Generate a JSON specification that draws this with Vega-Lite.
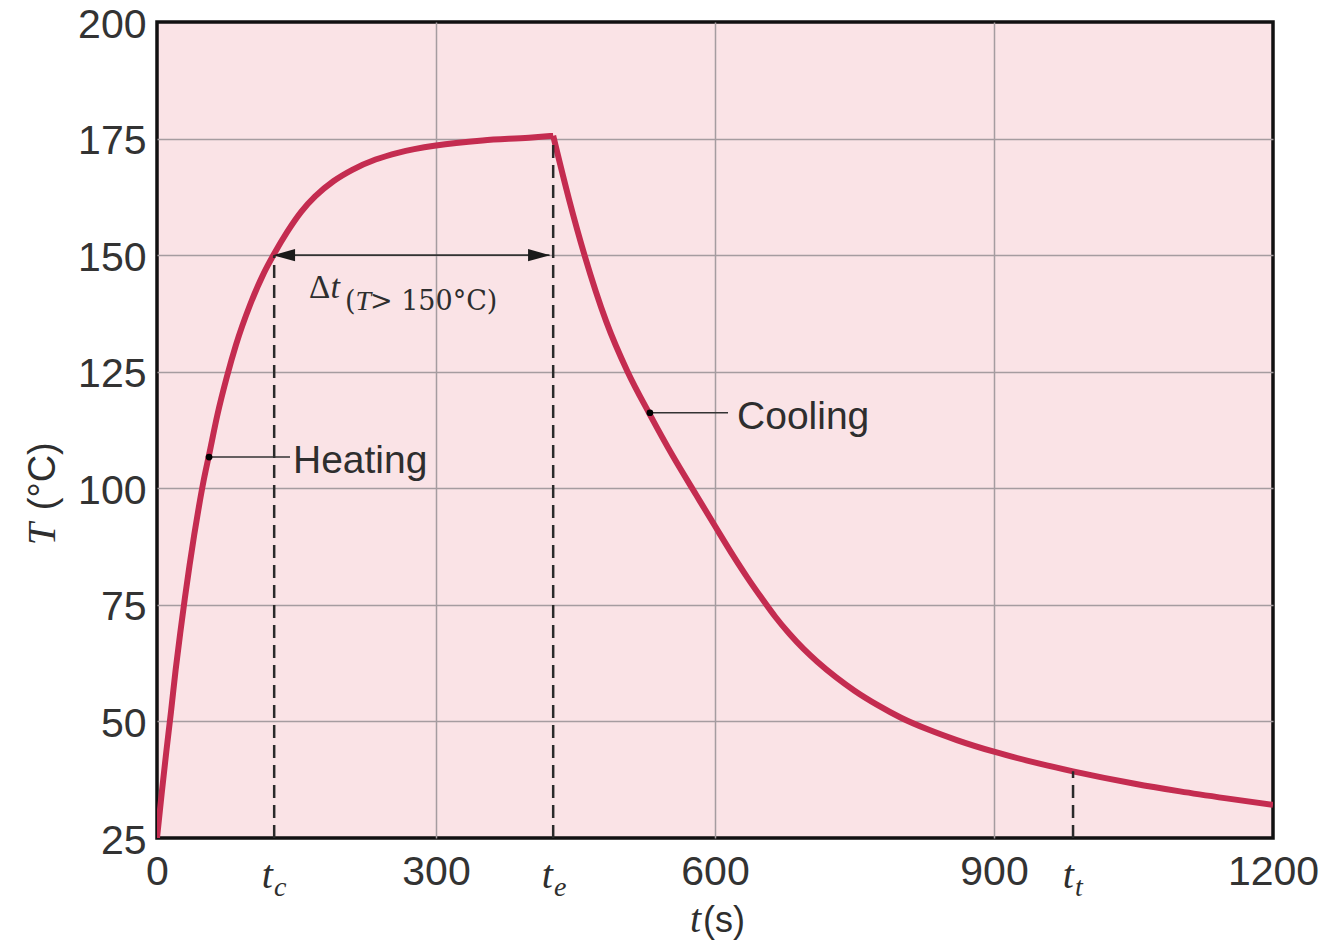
{
  "$schema": "https://vega.github.io/schema/vega-lite/v6.json",
  "width": 1116,
  "height": 816,
  "autosize": {"type": "none"},
  "padding": {"left": 157, "top": 22, "right": 57, "bottom": 106},
  "background": "#ffffff",
  "config": {
    "view": {"fill": "#fae3e6", "stroke": "#111111", "strokeWidth": 3.5},
    "axis": {
      "grid": true,
      "gridColor": "#a59ca0",
      "gridWidth": 1.5,
      "domain": false,
      "ticks": false,
      "labelFont": "Liberation Sans",
      "labelFontSize": 41,
      "labelColor": "#333333",
      "title": null
    }
  },
  "encoding": {
    "x": {
      "field": "t",
      "type": "quantitative",
      "scale": {"domain": [0, 1200], "nice": false, "zero": false},
      "axis": {
        "values": [0, 300, 600, 900, 1200],
        "format": "d",
        "labelPadding": 14,
        "labelFlush": false,
        "gridOpacity": {"condition": {"test": "datum.value == 0 || datum.value == 1200", "value": 0}, "value": 1}
      }
    },
    "y": {
      "field": "T",
      "type": "quantitative",
      "scale": {"domain": [25, 200], "nice": false, "zero": false},
      "axis": {
        "values": [25, 50, 75, 100, 125, 150, 175, 200],
        "labelPadding": 11,
        "labelOffset": 3,
        "labelFlush": false,
        "gridOpacity": {"condition": {"test": "datum.value == 25 || datum.value == 200", "value": 0}, "value": 1}
      }
    }
  },
  "layer": [
    {
      "data": {"values": [
        {"t": 0, "T": 25, "phase": "heating"},
        {"t": 5, "T": 34.5, "phase": "heating"},
        {"t": 10, "T": 43.5, "phase": "heating"},
        {"t": 15, "T": 52, "phase": "heating"},
        {"t": 20, "T": 61, "phase": "heating"},
        {"t": 25, "T": 69, "phase": "heating"},
        {"t": 30, "T": 76.5, "phase": "heating"},
        {"t": 35, "T": 83.5, "phase": "heating"},
        {"t": 40, "T": 90, "phase": "heating"},
        {"t": 45, "T": 96, "phase": "heating"},
        {"t": 50, "T": 101.5, "phase": "heating"},
        {"t": 56, "T": 107.2, "phase": "heating"},
        {"t": 65, "T": 115.8, "phase": "heating"},
        {"t": 75, "T": 123.8, "phase": "heating"},
        {"t": 85, "T": 130.8, "phase": "heating"},
        {"t": 100, "T": 139.3, "phase": "heating"},
        {"t": 115, "T": 146.2, "phase": "heating"},
        {"t": 126, "T": 150.3, "phase": "heating"},
        {"t": 140, "T": 155, "phase": "heating"},
        {"t": 155, "T": 159.3, "phase": "heating"},
        {"t": 170, "T": 162.6, "phase": "heating"},
        {"t": 190, "T": 165.9, "phase": "heating"},
        {"t": 210, "T": 168.3, "phase": "heating"},
        {"t": 235, "T": 170.5, "phase": "heating"},
        {"t": 260, "T": 172, "phase": "heating"},
        {"t": 300, "T": 173.5, "phase": "heating"},
        {"t": 350, "T": 174.6, "phase": "heating"},
        {"t": 400, "T": 175.2, "phase": "heating"},
        {"t": 426, "T": 175.6, "phase": "heating"},
        {"t": 426, "T": 175.6, "phase": "cooling"},
        {"t": 443, "T": 162, "phase": "cooling"},
        {"t": 460, "T": 149.8, "phase": "cooling"},
        {"t": 483, "T": 135.8, "phase": "cooling"},
        {"t": 506, "T": 125, "phase": "cooling"},
        {"t": 530, "T": 115.8, "phase": "cooling"},
        {"t": 555, "T": 106.8, "phase": "cooling"},
        {"t": 580, "T": 98.5, "phase": "cooling"},
        {"t": 600, "T": 91.9, "phase": "cooling"},
        {"t": 620, "T": 85.4, "phase": "cooling"},
        {"t": 635, "T": 80.8, "phase": "cooling"},
        {"t": 650, "T": 76.5, "phase": "cooling"},
        {"t": 665, "T": 72.4, "phase": "cooling"},
        {"t": 680, "T": 68.8, "phase": "cooling"},
        {"t": 695, "T": 65.6, "phase": "cooling"},
        {"t": 710, "T": 62.8, "phase": "cooling"},
        {"t": 730, "T": 59.5, "phase": "cooling"},
        {"t": 750, "T": 56.6, "phase": "cooling"},
        {"t": 775, "T": 53.5, "phase": "cooling"},
        {"t": 800, "T": 50.8, "phase": "cooling"},
        {"t": 830, "T": 48.2, "phase": "cooling"},
        {"t": 860, "T": 46, "phase": "cooling"},
        {"t": 900, "T": 43.5, "phase": "cooling"},
        {"t": 950, "T": 40.9, "phase": "cooling"},
        {"t": 985, "T": 39.3, "phase": "cooling"},
        {"t": 1050, "T": 36.7, "phase": "cooling"},
        {"t": 1100, "T": 35, "phase": "cooling"},
        {"t": 1150, "T": 33.5, "phase": "cooling"},
        {"t": 1200, "T": 32.1, "phase": "cooling"}
      ]},
      "mark": {"type": "line", "color": "#c42c50", "strokeWidth": 6, "interpolate": "monotone", "clip": true},
      "encoding": {"detail": {"field": "phase"}, "order": {"field": "t"}}
    },
    {
      "data": {"values": [
        {"t": 126, "T": 25, "T2": 150},
        {"t": 426, "T": 25, "T2": 175},
        {"t": 985, "T": 25, "T2": 39.3}
      ]},
      "mark": {"type": "rule", "color": "#2a2a2a", "strokeWidth": 2.5, "strokeDash": [13, 7]},
      "encoding": {"y2": {"field": "T2"}}
    },
    {
      "data": {"values": [
        {"t": 130, "t2": 422, "T": 150},
        {"t": 56, "t2": 143, "T": 106.7},
        {"t": 530, "t2": 614, "T": 116.2}
      ]},
      "mark": {"type": "rule", "color": "#333333", "strokeWidth": 1.6},
      "encoding": {"x2": {"field": "t2"}}
    },
    {
      "data": {"values": [
        {"t": 136.6, "T": 150, "dir": "L"},
        {"t": 410.8, "T": 150, "dir": "R"}
      ]},
      "mark": {"type": "point", "filled": true, "color": "#1a1a1a", "opacity": 1, "size": 484, "strokeWidth": 0},
      "encoding": {
        "shape": {"field": "dir", "type": "nominal", "legend": null,
          "scale": {"domain": ["L", "R"], "range": ["M-1,0L1,-0.55L1,0.55Z", "M1,0L-1,-0.55L-1,0.55Z"]}}
      }
    },
    {
      "data": {"values": [
        {"t": 56, "T": 106.7},
        {"t": 530, "T": 116.2}
      ]},
      "mark": {"type": "point", "filled": true, "color": "#000000", "opacity": 1, "size": 45, "strokeWidth": 0}
    },
    {
      "data": {"values": [
        {"t": 146.2, "T": 103.3, "label": "Heating"},
        {"t": 623.7, "T": 112.7, "label": "Cooling"}
      ]},
      "mark": {"type": "text", "font": "Liberation Sans", "fontSize": 39, "color": "#2e2e2e", "align": "left", "baseline": "alphabetic"},
      "encoding": {"text": {"field": "label"}}
    },
    {
      "data": {"values": [
        {"t": 124.7, "T": 14.28, "label": "t"},
        {"t": 425.8, "T": 14.28, "label": "t"},
        {"t": 986.0, "T": 14.28, "label": "t"},
        {"t": 585, "T": 4.85, "label": "t"}
      ]},
      "mark": {"type": "text", "font": "Liberation Serif", "fontStyle": "italic", "fontSize": 40, "color": "#2e2e2e", "align": "right", "baseline": "alphabetic"},
      "encoding": {"text": {"field": "label"}}
    },
    {
      "data": {"values": [
        {"t": 125.8, "T": 12.56, "label": "c"},
        {"t": 426.9, "T": 12.56, "label": "e"},
        {"t": 987.1, "T": 12.56, "label": "t"}
      ]},
      "mark": {"type": "text", "font": "Liberation Serif", "fontStyle": "italic", "fontSize": 28, "color": "#2e2e2e", "align": "left", "baseline": "alphabetic"},
      "encoding": {"text": {"field": "label"}}
    },
    {
      "data": {"values": [
        {"t": 587, "T": 4.85, "label": "(s)"}
      ]},
      "mark": {"type": "text", "font": "Liberation Sans", "fontSize": 36, "color": "#2e2e2e", "align": "left", "baseline": "alphabetic"},
      "encoding": {"text": {"field": "label"}}
    },
    {
      "data": {"values": [
        {"t": -109.7, "T": 87.8, "label": "T"}
      ]},
      "mark": {"type": "text", "font": "Liberation Serif", "fontStyle": "italic", "fontSize": 40, "color": "#2e2e2e", "align": "left", "baseline": "alphabetic", "angle": 270},
      "encoding": {"text": {"field": "label"}}
    },
    {
      "data": {"values": [
        {"t": -109.7, "T": 95.3, "label": "(°C)"}
      ]},
      "mark": {"type": "text", "font": "Liberation Sans", "fontSize": 38, "color": "#2e2e2e", "align": "left", "baseline": "alphabetic", "angle": 270},
      "encoding": {"text": {"field": "label"}}
    },
    {
      "data": {"values": [
        {"t": 163.5, "T": 140.8, "label": "Δ"}
      ]},
      "mark": {"type": "text", "font": "Liberation Serif", "fontSize": 33, "color": "#2e2e2e", "align": "left", "baseline": "alphabetic"},
      "encoding": {"text": {"field": "label"}}
    },
    {
      "data": {"values": [
        {"t": 186.5, "T": 140.8, "label": "t"}
      ]},
      "mark": {"type": "text", "font": "Liberation Serif", "fontStyle": "italic", "fontSize": 34, "color": "#2e2e2e", "align": "left", "baseline": "alphabetic"},
      "encoding": {"text": {"field": "label"}}
    },
    {
      "data": {"values": [
        {"t": 202.2, "T": 138.3, "label": "("},
        {"t": 229.0, "T": 138.3, "label": "> 150°C)"}
      ]},
      "mark": {"type": "text", "font": "DejaVu Serif", "fontSize": 27, "color": "#2e2e2e", "align": "left", "baseline": "alphabetic"},
      "encoding": {"text": {"field": "label"}}
    },
    {
      "data": {"values": [
        {"t": 213.5, "T": 138.3, "label": "T"}
      ]},
      "mark": {"type": "text", "font": "Liberation Serif", "fontStyle": "italic", "fontSize": 28, "color": "#2e2e2e", "align": "left", "baseline": "alphabetic"},
      "encoding": {"text": {"field": "label"}}
    }
  ]
}
